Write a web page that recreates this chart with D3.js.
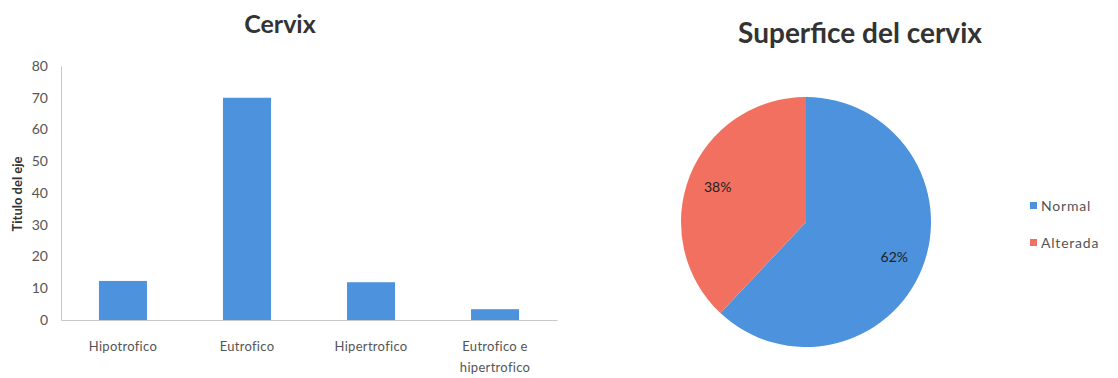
<!DOCTYPE html>
<html><head><meta charset="utf-8">
<script src="https://cdn.jsdelivr.net/npm/d3@7"></script>
<style>body{margin:0;background:#fff}svg{display:block}</style>
</head><body>
<svg id="c" width="1118" height="378"></svg>
<script>
const barCategories = [["Hipotrofico"], ["Eutrofico"], ["Hipertrofico"], ["Eutrofico e", "hipertrofico"]];
const barValues = [12.3, 70, 11.9, 3.4];
const yTicks = [0, 10, 20, 30, 40, 50, 60, 70, 80];
const pieLabels = ["Normal", "Alterada"];
const pieValues = [62, 38];
const pieColors = ["#4c92dc", "#f1705f"];
const barColor = "#4c92dc";

const svg = d3.select("#c");
const font = "Lato, 'Open Sans', sans-serif";

// ---- Bar chart ----
const x = d3.scaleBand().domain(d3.range(barCategories.length)).range([61, 557])
  .paddingInner(0.613).paddingOuter(0.306);
const y = d3.scaleLinear().domain([0, 80]).range([320, 66]);

svg.append("text").attr("x", 280).attr("y", 33).attr("text-anchor", "middle")
  .attr("font-family", font).attr("font-weight", "bold").attr("font-size", 25)
  .attr("fill", "#333").text("Cervix");

const yAxis = svg.append("g").attr("transform", "translate(61,0)")
  .call(d3.axisLeft(y).tickValues(yTicks).tickSize(0).tickPadding(13));
yAxis.select(".domain").attr("stroke", "#c8c8c8");
yAxis.selectAll("text").attr("font-family", font).attr("font-size", 14).attr("fill", "#555");

svg.append("text").attr("transform", "translate(22,194) rotate(-90)")
  .attr("text-anchor", "middle").attr("font-family", font).attr("font-weight", "bold")
  .attr("font-size", 13).attr("fill", "#333").text("Titulo del eje");

svg.append("g").selectAll("rect").data(barValues).join("rect")
  .attr("x", (d, i) => x(i)).attr("width", x.bandwidth())
  .attr("y", d => y(d)).attr("height", d => y(0) - y(d)).attr("fill", barColor);

const xAxis = svg.append("g").attr("transform", "translate(0,320)")
  .call(d3.axisBottom(x).tickSize(0).tickFormat(""));
xAxis.select(".domain").attr("stroke", "#c8c8c8");
xAxis.selectAll(".tick").each(function(d) {
  const t = d3.select(this).append("text").attr("fill", "#555")
    .attr("font-family", font).attr("font-size", 13).attr("text-anchor", "middle")
    .attr("letter-spacing", 0.3);
  barCategories[d].forEach((line, k) => {
    t.append("tspan").attr("x", 0).attr("y", 31 + k * 21).text(line);
  });
});

// ---- Pie chart ----
svg.append("text").attr("x", 860).attr("y", 43).attr("text-anchor", "middle")
  .attr("font-family", font).attr("font-weight", "bold").attr("font-size", 28)
  .attr("fill", "#333").text("Superfice del cervix");

const cx = 806, cy = 222, r = 125;
const pie = d3.pie().sort(null).value(d => d)(pieValues);
const arc = d3.arc().innerRadius(0).outerRadius(r);
const pg = svg.append("g").attr("transform", `translate(${cx},${cy})`);
pg.selectAll("path").data(pie).join("path").attr("d", arc)
  .attr("fill", (d, i) => pieColors[i]);
const labelArc = d3.arc().innerRadius(r * 0.76).outerRadius(r * 0.76);
pg.selectAll("text").data(pie).join("text")
  .attr("transform", d => `translate(${labelArc.centroid(d)})`)
  .attr("text-anchor", "middle").attr("dy", "0.35em")
  .attr("font-family", font).attr("font-size", 14).attr("fill", "#222")
  .text(d => Math.round(d.data) + "%");

const lg = svg.append("g");
pieLabels.forEach((l, i) => {
  const yy = 206 + i * 37;
  lg.append("rect").attr("x", 1030).attr("y", yy - 4).attr("width", 7).attr("height", 7)
    .attr("fill", pieColors[i]);
  lg.append("text").attr("x", 1041).attr("y", yy).attr("dy", "0.35em")
    .attr("font-family", font).attr("font-size", 14).attr("fill", "#555")
    .attr("letter-spacing", 0.8).text(l);
});
</script>
</body></html>
